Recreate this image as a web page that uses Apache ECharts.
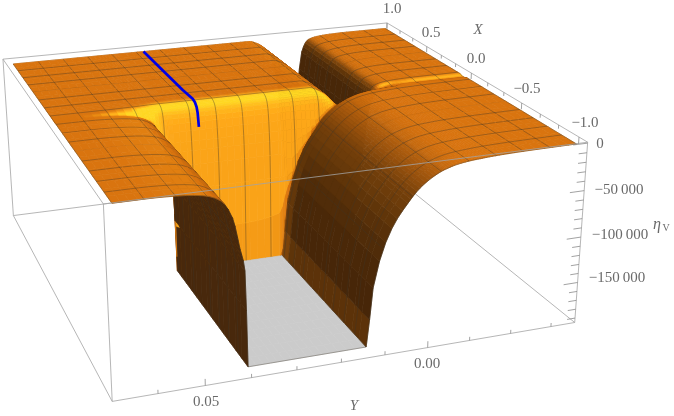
<!DOCTYPE html>
<html><head><meta charset="utf-8">
<style>html,body{margin:0;padding:0;background:#fff}#c{width:674px;height:416px}</style>
<script src="https://cdn.jsdelivr.net/npm/echarts@6/dist/echarts.min.js"></script>
</head><body><div id="c"></div>
<script>
// ---- data ----
const yStations=[.067,.06,.054,.0485,.045,.0425,.041,.04,.0393,.033,.023,.0135,.0115,.0075,.004,.002,0,-.002,-.004,-.005,-.0065,-.009,-.011,-.0125,-.014,-.016,-.019,-.024,-.0355];
const xStations=[1,.5,.2,.14,.105,.08,.06,.042,.028,.022,-1];
const etaFar=[-6000,-6000,-6000,-6000,-6000,-6000,-6000,-6000,-6000,-6000,-6000,-6000,-6000,-6000,-6000,-9000,-15000,-28000,-63000,-113000,-192000,-113000,-26000,-12000,-9000,-7500,-6500,-6000,-6000];
const etaX14=[-6000,-6000,-6000,-5800,-5400,-5000,-5000,-5000,-5000,-5000,-5000,-5000,-5000,-5000,-5000,-8500,-15000,-28000,-63000,-113000,-192000,-113000,-26000,-12000,-9000,-7500,-6500,-6000,-6000];
const etaX105=[-6000,-6000,-6000,-6000,-6000,-6500,-6500,-6500,-6500,-6500,-6500,-6500,-6500,-6500,-6500,-9000,-15000,-28000,-63000,-113000,-192000,-113000,-26000,-12000,-9000,-7500,-6500,-6000,-6000];
const etaX08=[-6000,-6000,-6000,-7000,-8000,-10000,-10000,-10000,-10000,-10000,-10000,-10000,-10000,-10000,-10000,-11000,-16000,-27000,-53000,-83000,-123000,-83000,-25000,-13000,-11000,-9000,-6800,-6800,-6800];
const etaX06=[-6000,-6000,-6500,-8000,-11000,-19000,-19000,-19000,-19000,-19000,-19000,-19000,-19000,-19000,-19000,-19000,-19000,-25000,-38000,-43000,-53000,-45000,-21000,-13000,-11000,-9000,-7500,-7500,-7500];
const etaX042=[-6000,-6000,-7000,-9500,-15000,-33000,-45000,-45000,-45000,-45000,-45000,-45000,-45000,-45000,-43000,-34000,-26000,-22000,-23000,-21000,-19000,-17000,-13000,-11000,-10000,-9000,-6800,-6800,-6800];
const etaX028=[-6000,-6000,-7000,-10000,-17000,-36000,-68000,-91000,-98000,-98000,-98000,-98000,-98000,-69000,-45000,-34000,-26000,-20000,-15500,-14000,-12000,-10000,-9000,-8500,-8000,-7500,-7000,-6500,-6000];
const etaNear=[-6000,-6000,-7000,-10000,-17000,-36000,-68000,-91000,-235000,-260000,-260000,-235000,-129000,-69000,-45000,-34000,-26000,-20000,-15500,-14000,-12000,-10000,-9000,-8500,-8000,-7500,-7000,-6500,-6000];
const etaRows=[etaFar,etaFar,etaFar,etaX14,etaX105,etaX08,etaX06,etaX042,etaX028,etaNear,etaNear];
const blueY=.033;
const blueX=[1,.6,.3,.14,.105,.08,.065,.05];
const meshCount=15;
const xMajor=[1,.5,0,-.5,-1];
const xMajorLabels=['1.0','0.5','0.0','\u22120.5','\u22121.0'];
const xMinor=[.83,.67,.33,.17,-.17,-.33,-.67,-.83];
const yMajor=[.05,0];
const yMajorLabels=['0.05','0.00'];
const yMinor=[.06,.04,.03,.02,.01,-.01,-.02,-.03];
const zMajor=[0,-50000,-100000,-150000];
const zMajorLabels=['0','\u221250\u2009000','\u2212100\u2009000','\u2212150\u2009000'];
const zMinor=[-10000,-20000,-30000,-40000,-60000,-70000,-80000,-90000,-110000,-120000,-130000,-140000,-160000,-170000,-180000,-190000];
// ---- layout ----
const xMajorLabelPos=[[392,9],[431,33],[476,59],[527,89],[585,123]];
const yMajorLabelPos=[[206,402],[427,364]];
const zMajorLabelPos=[[600,144],[619,190],[620,235],[617,278]];
const BOX={x0:-1.07,x1:1,y0:-.036,y1:.0695,z0:-195000,z1:1000};
const FLOOR=-192000;
const cornerPix=[[1,1,1,3,60],[1,0,1,387,23],[0,0,1,588,142],[0,1,1,103,203],[0,1,0,113,402],[0,0,0,574,323],[1,1,0,13,215],[1,0,0,384,168]];
// ---- projection fitted to the box corners ----
function solve(A,b){const n=b.length;for(let i=0;i<n;i++){let p=i;for(let r=i+1;r<n;r++)if(Math.abs(A[r][i])>Math.abs(A[p][i]))p=r;[A[i],A[p]]=[A[p],A[i]];[b[i],b[p]]=[b[p],b[i]];for(let r=i+1;r<n;r++){const f=A[r][i]/A[i][i];for(let c=i;c<n;c++)A[r][c]-=f*A[i][c];b[r]-=f*b[i];}}const x=Array(n).fill(0);for(let i=n-1;i>=0;i--){let s=b[i];for(let c=i+1;c<n;c++)s-=A[i][c]*x[c];x[i]=s/A[i][i];}return x;}
const rowsM=[],rhs=[];
cornerPix.forEach(([u,v,w,x,y])=>{rowsM.push([u,v,w,1,0,0,0,0,-x*u,-x*v,-x*w]);rhs.push(x);rowsM.push([0,0,0,0,u,v,w,1,-y*u,-y*v,-y*w]);rhs.push(y);});
const ATA=Array.from({length:11},()=>Array(11).fill(0)),ATb=Array(11).fill(0);
rowsM.forEach((r,k)=>{for(let i=0;i<11;i++){ATb[i]+=r[i]*rhs[k];for(let j=0;j<11;j++)ATA[i][j]+=r[i]*r[j];}});
const H=solve(ATA,ATb);
function proj(X,Y,Z){const u=(X-BOX.x0)/(BOX.x1-BOX.x0),v=(Y-BOX.y0)/(BOX.y1-BOX.y0),w=(Z-BOX.z0)/(BOX.z1-BOX.z0);const d=H[8]*u+H[9]*v+H[10]*w+1;return [(H[0]*u+H[1]*v+H[2]*w+H[3])/d,(H[4]*u+H[5]*v+H[6]*w+H[7])/d,d];}
// smooth, shape-preserving reading between the stations; the surface is cut off at the floor
function tangents(xs,ys){const n=xs.length,h=[],s=[],m=Array(n).fill(0);for(let i=0;i<n-1;i++){h.push(xs[i+1]-xs[i]);s.push((ys[i+1]-ys[i])/h[i]);}
 m[0]=s[0];m[n-1]=s[n-2];for(let i=1;i<n-1;i++){if(s[i-1]*s[i]<=0)m[i]=0;else{const w1=2*h[i]+h[i-1],w2=h[i]+2*h[i-1];m[i]=(w1+w2)/(w1/s[i-1]+w2/s[i]);}}return m;}
function hermite(xs,ys,m,t){let i=0;while(i<xs.length-2&&t<xs[i+1])i++;const h=xs[i+1]-xs[i],r=(t-xs[i])/h,r2=r*r,r3=r2*r;return (2*r3-3*r2+1)*ys[i]+(r3-2*r2+r)*h*m[i]+(-2*r3+3*r2)*ys[i+1]+(r3-r2)*h*m[i+1];}
const rowT=etaRows.map(r=>tangents(yStations,r));
function etaAt(X,Y){const col=etaRows.map((r,i)=>hermite(yStations,r,rowT[i],Y));return Math.max(FLOOR,hermite(xStations,col,tangents(xStations,col),X));}
function refine(a,step){const o=[];for(let i=0;i<a.length-1;i++){const n=Math.max(3,Math.ceil(Math.abs(a[i]-a[i+1])/step));for(let k=0;k<n;k++)o.push(a[i]+(a[i+1]-a[i])*k/n);}o.push(a[a.length-1]);return o;}
const fx=refine(xStations,.08),fy=refine(yStations,.002);
const nx=fx.length,ny=fy.length;
const E=fx.map(X=>fy.map(Y=>etaAt(X,Y)));
const LX=1.2/(BOX.x1-BOX.x0),LY=1.6/(BOX.y1-BOX.y0),LZ=.9/(BOX.z1-BOX.z0);
function light(i,j){const i0=Math.max(0,i-1),i1=Math.min(nx-1,i+1),j0=Math.max(0,j-1),j1=Math.min(ny-1,j+1);
 const dzx=(E[i1][j]-E[i0][j])*LZ/((fx[i1]-fx[i0])*LX),dzy=(E[i][j1]-E[i][j0])*LZ/((fy[j1]-fy[j0])*LY);
 const l=Math.hypot(dzx,dzy,1),a=-dzx/l,b=-dzy/l,c=1/l;
 return .28+.57*Math.pow(c,1.5)+.7*Math.max(0,-a)+.25*Math.max(0,-b);}
let Lg=fx.map((_,i)=>fy.map((_,j)=>light(i,j)));
Lg=Lg.map((r,i)=>r.map((_,j)=>{let s=0,n=0;for(let a=-1;a<=1;a++)for(let b=-1;b<=1;b++){const q=Lg[i+a]&&Lg[i+a][j+b];if(q!==undefined){s+=q;n++;}}return s/n;}));
const RAMP=[[.3,[70,38,8]],[.45,[105,58,10]],[.6,[150,80,12]],[.85,[217,116,15]],[1.0,[255,170,25]],[1.08,[255,215,35]]];
function ramp(L){if(L<=RAMP[0][0])return RAMP[0][1];for(let k=1;k<RAMP.length;k++)if(L<=RAMP[k][0]){const t=(L-RAMP[k-1][0])/(RAMP[k][0]-RAMP[k-1][0]);return RAMP[k-1][1].map((c,m)=>c+(RAMP[k][1][m]-c)*t);}return RAMP[RAMP.length-1][1];}
function rgb(c){return 'rgb('+c.map(Math.round).join(',')+')';}
const pts=fx.map((X,i)=>fy.map((Y,j)=>proj(X,Y,E[i][j])));
const items=[];const isFloor=[];
let dmin=1e9,dmax=-1e9;
for(let i=0;i<nx;i++)for(let j=0;j<ny;j++){dmin=Math.min(dmin,pts[i][j][2]);dmax=Math.max(dmax,pts[i][j][2]);}
const far=proj(BOX.x1,BOX.y0,BOX.z0)[2]>proj(BOX.x0,BOX.y1,BOX.z1)[2]?1:-1;
const bias=.012*(dmax-dmin);
function area(q){let s=0;for(let k=0;k<4;k++){const a=q[k],b=q[(k+1)%4];s+=a[0]*b[1]-b[0]*a[1];}return s;}
const refSign=Math.sign(area([pts[0][0],pts[0][ny-1],pts[nx-1][ny-1],pts[nx-1][0]]));
for(let i=0;i<nx-1;i++){isFloor.push([]);for(let j=0;j<ny-1;j++){
 const q=[pts[i][j],pts[i][j+1],pts[i+1][j+1],pts[i+1][j]];
 const fl=E[i][j]<=FLOOR+1&&E[i][j+1]<=FLOOR+1&&E[i+1][j]<=FLOOR+1&&E[i+1][j+1]<=FLOOR+1;
 isFloor[i].push(fl);
 let col;
 if(fl)col=[203,203,203];
 else if(area(q)*refSign<0)col=[72,40,12];
 else col=ramp((Lg[i][j]+Lg[i][j+1]+Lg[i+1][j]+Lg[i+1][j+1])/4);
 const c=rgb(col);
 items.push({k:far*(q[0][2]+q[1][2]+q[2][2]+q[3][2])/4,poly:q.map(p=>[p[0],p[1]]),c});
}}
function addSeg(a,b,color,w){items.push({k:far*(a[2]+b[2])/2-bias,seg:[a[0],a[1],b[0],b[1]],c:color,w});}
const MESHC='rgba(60,52,40,.55)';
for(let m=0;m<=meshCount+1;m++){
 const Xm=-1+2*m/(meshCount+1),Ym=-.0355+(.067+.0355)*m/(meshCount+1);
 const edge=m===0||m===meshCount+1;
 for(let j=0;j<ny-1;j++){const a=etaAt(Xm,fy[j]),b=etaAt(Xm,fy[j+1]);if(!edge&&a<=FLOOR+1&&b<=FLOOR+1)continue;addSeg(proj(Xm,fy[j],a),proj(Xm,fy[j+1],b),MESHC,.7);}
 for(let i=0;i<nx-1;i++){const a=etaAt(fx[i],Ym),b=etaAt(fx[i+1],Ym);if(!edge&&a<=FLOOR+1&&b<=FLOOR+1)continue;addSeg(proj(fx[i],Ym,a),proj(fx[i+1],Ym,b),MESHC,.7);}
}
for(let i=0;i<nx-1;i++)for(let j=0;j<ny-1;j++){
 if(!isFloor[i][j])continue;
 if(i>0&&!isFloor[i-1][j])addSeg(pts[i][j],pts[i][j+1],MESHC,.7);
 if(i<nx-2&&!isFloor[i+1][j])addSeg(pts[i+1][j],pts[i+1][j+1],MESHC,.7);
 if(j>0&&!isFloor[i][j-1])addSeg(pts[i][j],pts[i+1][j],MESHC,.7);
 if(j<ny-2&&!isFloor[i][j+1])addSeg(pts[i][j+1],pts[i+1][j+1],MESHC,.7);
}
items.sort((a,b)=>b.k-a.k);
// box and ticks
const EDGE='#a3a3a3';
const B=BOX;
const hidden=[[B.x1,B.y1,B.z1,B.x1,B.y0,B.z1],[B.x1,B.y0,B.z1,B.x0,B.y0,B.z1],[B.x1,B.y1,B.z0,B.x1,B.y0,B.z0],[B.x1,B.y0,B.z0,B.x0,B.y0,B.z0],[B.x1,B.y0,B.z0,B.x1,B.y0,B.z1],[B.x1,B.y1,B.z0,B.x1,B.y1,B.z1],[B.x1,B.y1,B.z0,B.x0,B.y1,B.z0],[B.x0,B.y0,B.z0,B.x0,B.y0,B.z1]];
const front=[[B.x0,B.y1,B.z1,B.x0,B.y0,B.z1],[B.x0,B.y1,B.z1,B.x1,B.y1,B.z1],[B.x0,B.y1,B.z1,B.x0,B.y1,B.z0],[B.x0,B.y1,B.z0,B.x0,B.y0,B.z0]];
const TICK='#8a8a8a';
function ticksData(){const o=[];
 xMajor.forEach(v=>o.push([v,B.y0,B.z1,v,B.y0,B.z1-7000]));xMinor.forEach(v=>o.push([v,B.y0,B.z1,v,B.y0,B.z1-4000]));
 yMajor.forEach(v=>o.push([B.x0,v,B.z0,B.x0,v,B.z0+7000]));yMinor.forEach(v=>o.push([B.x0,v,B.z0,B.x0,v,B.z0+4000]));
 zMajor.forEach(v=>o.push([B.x0,B.y0,v,B.x0,B.y0+.0035,v]));zMinor.forEach(v=>o.push([B.x0,B.y0,v,B.x0,B.y0+.002,v]));
 return o;}
const lines3=(list,color,w)=>list.map(l=>{const a=proj(l[0],l[1],l[2]),b=proj(l[3],l[4],l[5]);return {seg:[a[0],a[1],b[0],b[1]],c:color,w};});
const under=lines3(hidden,EDGE,.8);
const over=lines3(front,EDGE,.8).concat(lines3(ticksData(),TICK,.8));
const bluePts=blueX.map(X=>{const p=proj(X,blueY,etaAt(X,blueY));return [p[0],p[1]];});
const TXT='#6a6a6a',FF='"Liberation Serif",serif';
const texts=[];
xMajorLabels.forEach((t,i)=>texts.push({t,p:xMajorLabelPos[i]}));
yMajorLabels.forEach((t,i)=>texts.push({t,p:yMajorLabelPos[i]}));
zMajorLabels.forEach((t,i)=>texts.push({t,p:zMajorLabelPos[i]}));
texts.push({t:'X',p:[478,30],it:1},{t:'Y',p:[354,406],it:1},{t:'\u03b7',p:[657,225],it:1,s:16},{t:'V',p:[666,228],s:10});
function shapeItem(it,api){
 if(it.poly)return {type:'polygon',shape:{points:it.poly.map(p=>api.coord(p))},style:{fill:it.c,stroke:it.c,lineWidth:.7}};
 const a=api.coord([it.seg[0],it.seg[1]]),b=api.coord([it.seg[2],it.seg[3]]);
 return {type:'line',shape:{x1:a[0],y1:a[1],x2:b[0],y2:b[1]},style:{stroke:it.c,lineWidth:it.w,fill:null}};
}
const mk=(list,z)=>({type:'custom',coordinateSystem:'cartesian2d',clip:false,silent:true,z,animation:false,progressive:0,encode:{x:0,y:1},data:list.map((_,i)=>[i,i]),renderItem:(p,api)=>shapeItem(list[p.dataIndex],api)});
const chart=echarts.init(document.getElementById('c'),null,{renderer:'canvas'});
chart.setOption({animation:false,backgroundColor:'#fff',tooltip:{show:false},
 grid:{left:0,right:0,top:0,bottom:0},
 xAxis:{type:'value',min:0,max:674,show:false},yAxis:{type:'value',min:0,max:416,inverse:true,show:false},
 series:[mk(under,1),mk(items,2),mk(over,3),
  {type:'line',z:4,silent:true,symbol:'none',data:bluePts,lineStyle:{color:'#0000e6',width:2.7},animation:false,clip:false},
  {type:'custom',coordinateSystem:'cartesian2d',clip:false,silent:true,z:5,animation:false,encode:{x:0,y:1},data:texts.map((_,i)=>[i,i]),renderItem:(p,api)=>{const t=texts[p.dataIndex],c=api.coord(t.p);return {type:'text',x:c[0],y:c[1],style:{text:t.t,fill:TXT,font:(t.it?'italic ':'')+(t.s||15)+'px '+FF,align:'center',verticalAlign:'middle'}};}}
 ]});
</script></body></html>
